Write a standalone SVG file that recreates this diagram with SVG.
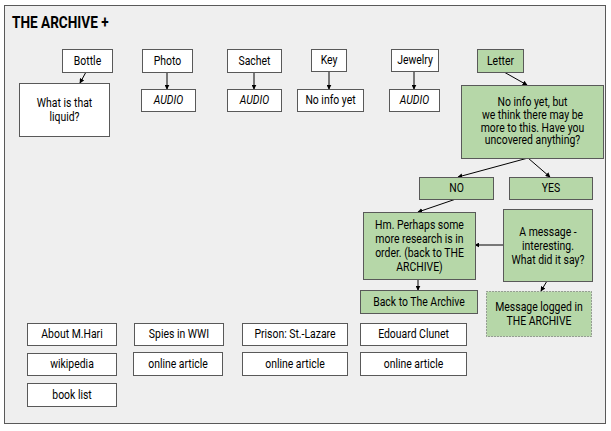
<svg xmlns="http://www.w3.org/2000/svg" width="611" height="431" viewBox="0 0 611 431">
  <style>
    .frame { fill: #efefef; stroke: #595959; stroke-width: 1; }
    .box { fill: #ffffff; stroke: #595959; stroke-width: 1; }
    .green { fill: #b6d7a8; stroke: #595959; stroke-width: 1; }
    .dotted { fill: #b6d7a8; stroke: #595959; stroke-width: 1; stroke-dasharray: 1 2; }
    text { font-family: "Roboto", "Liberation Sans", sans-serif; font-size: 12px; fill: #000; text-anchor: middle;
           transform-box: fill-box; transform-origin: center; transform: scaleX(0.87); }
    .it { font-style: italic; }
    .title { font-size: 17px; font-weight: bold; text-anchor: start; transform-origin: left; transform: scaleX(0.8); }
    .edge { stroke: #000; stroke-width: 1; fill: none; marker-end: url(#arrow); }
  </style>
  <defs>
    <marker id="arrow" viewBox="0 0 8 8" refX="7" refY="4" markerWidth="5" markerHeight="5" orient="auto" markerUnits="userSpaceOnUse">
      <path d="M0,0 L8,4 L0,8 Z" fill="#000"/>
    </marker>
  </defs>

  <rect class="frame" x="4.5" y="5.5" width="601" height="418"/>
  <text class="title" x="12" y="28">THE ARCHIVE +</text>

  <g id="connectors">
    <line class="edge" x1="86" y1="72" x2="80" y2="83"/>
    <line class="edge" x1="167" y1="72" x2="167" y2="89"/>
    <line class="edge" x1="254" y1="72" x2="254" y2="89"/>
    <line class="edge" x1="329" y1="71" x2="329" y2="89"/>
    <line class="edge" x1="414" y1="71" x2="414" y2="89"/>
    <line class="edge" x1="504" y1="72" x2="527" y2="85"/>
    <line class="edge" x1="528" y1="158" x2="458" y2="177"/>
    <line class="edge" x1="528" y1="158" x2="550" y2="177"/>
    <line class="edge" x1="456" y1="199" x2="418" y2="212"/>
    <line class="edge" x1="503" y1="245" x2="475" y2="245"/>
    <line class="edge" x1="418" y1="279" x2="418" y2="290"/>
    <line class="edge" x1="547" y1="281" x2="541" y2="291"/>
  </g>

  <g id="bottle"><rect class="box" x="62.5" y="49.5" width="50" height="23"/><text x="87.5" y="65">Bottle</text></g>
  <g id="liquid"><rect class="box" x="19.5" y="83.5" width="90" height="53"/><text x="64.5" y="107">What is that</text><text x="64.5" y="121">liquid?</text></g>
  <g id="photo"><rect class="box" x="142.5" y="49.5" width="50" height="23"/><text x="167.5" y="65">Photo</text></g>
  <g id="photo-audio"><rect class="box" x="141.5" y="89.5" width="54" height="22"/><text class="it" x="168.5" y="104.5">AUDIO</text></g>
  <g id="sachet"><rect class="box" x="227.5" y="49.5" width="54" height="23"/><text x="254.5" y="65">Sachet</text></g>
  <g id="sachet-audio"><rect class="box" x="227.5" y="89.5" width="54" height="22"/><text class="it" x="254.5" y="104.5">AUDIO</text></g>
  <g id="key"><rect class="box" x="311.5" y="49.5" width="35" height="22"/><text x="329" y="64.5">Key</text></g>
  <g id="key-info"><rect class="box" x="297.5" y="89.5" width="66" height="22"/><text x="330.5" y="104.5">No info yet</text></g>
  <g id="jewelry"><rect class="box" x="391.5" y="49.5" width="47" height="22"/><text x="415" y="64.5">Jewelry</text></g>
  <g id="jewelry-audio"><rect class="box" x="389.5" y="89.5" width="50" height="22"/><text class="it" x="414.5" y="104.5">AUDIO</text></g>
  <g id="letter"><rect class="green" x="477.5" y="49.5" width="46" height="23"/><text x="500.5" y="65">Letter</text></g>
  <g id="letter-question"><rect class="green" x="461.5" y="85.5" width="142" height="73"/>
    <text x="532.5" y="106">No info yet, but</text>
    <text x="532.5" y="118.8">we think there may be</text>
    <text x="532.5" y="131.6">more to this. Have you</text>
    <text x="532.5" y="144.4">uncovered anything?</text></g>
  <g id="no"><rect class="green" x="419.5" y="177.5" width="74" height="22"/><text x="456.5" y="192.5">NO</text></g>
  <g id="yes"><rect class="green" x="509.5" y="177.5" width="83" height="22"/><text x="551" y="192.5">YES</text></g>
  <g id="research"><rect class="green" x="363.5" y="212.5" width="112" height="67"/>
    <text x="419.5" y="229">Hm. Perhaps some</text>
    <text x="419.5" y="243">more research is in</text>
    <text x="419.5" y="257">order. (back to THE</text>
    <text x="419.5" y="271">ARCHIVE)</text></g>
  <g id="message"><rect class="green" x="503.5" y="209.5" width="89" height="72"/>
    <text x="548" y="236">A message -</text>
    <text x="548" y="250">interesting.</text>
    <text x="548" y="264">What did it say?</text></g>
  <g id="back"><rect class="green" x="360.5" y="290.5" width="117" height="23"/><text x="419" y="306">Back to The Archive</text></g>
  <g id="logged"><rect class="dotted" x="486.5" y="291.5" width="105" height="45"/>
    <text x="539" y="311">Message logged in</text>
    <text x="539" y="325">THE ARCHIVE</text></g>

  <g id="about"><rect class="box" x="27.5" y="323.5" width="89" height="22"/><text x="72" y="338.5">About M.Hari</text></g>
  <g id="spies"><rect class="box" x="134.5" y="323.5" width="89" height="22"/><text x="179" y="338.5">Spies in WWI</text></g>
  <g id="prison"><rect class="box" x="242.5" y="323.5" width="105" height="22"/><text x="295" y="338.5">Prison: St.-Lazare</text></g>
  <g id="clunet"><rect class="box" x="360.5" y="323.5" width="106" height="22"/><text x="413.5" y="338.5">Edouard Clunet</text></g>
  <g id="wikipedia"><rect class="box" x="27.5" y="353.5" width="89" height="22"/><text x="72" y="368.5">wikipedia</text></g>
  <g id="spies-article"><rect class="box" x="133.5" y="352.5" width="89" height="23"/><text x="178" y="368">online article</text></g>
  <g id="prison-article"><rect class="box" x="242.5" y="352.5" width="105" height="23"/><text x="295" y="368">online article</text></g>
  <g id="clunet-article"><rect class="box" x="360.5" y="352.5" width="106" height="23"/><text x="413.5" y="368">online article</text></g>
  <g id="books"><rect class="box" x="27.5" y="383.5" width="89" height="23"/><text x="72" y="399">book list</text></g>
</svg>
